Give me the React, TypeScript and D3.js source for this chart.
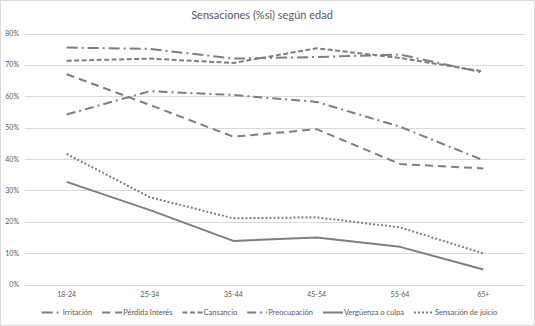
import React, { useEffect, useRef } from "react";
import * as d3 from "d3";

const categories = ["18-24", "25-34", "35-44", "45-54", "55-64", "65+"];
const seriesNames = ["Irritación", "Pérdida Interés", "Cansancio", "Preocupación", "Vergüenza o culpa", "Sensación de juicio"];
const irritacion = [75.5, 75.1, 72.0, 72.5, 73.3, 67.5];
const perdidaInteres = [67.0, 57.2, 47.1, 49.5, 38.4, 37.0];
const cansancio = [71.3, 72.0, 70.6, 75.3, 72.2, 67.9];
const preocupacion = [54.2, 61.6, 60.4, 58.2, 50.3, 39.6];
const verguenza = [32.7, 23.7, 13.9, 15.0, 12.0, 4.8];
const sensacion = [41.6, 27.8, 21.1, 21.4, 18.2, 9.9];
const yTicks = [0, 10, 20, 30, 40, 50, 60, 70, 80];
const title = "Sensaciones (%si) según edad";

const W = 535;
const H = 326;
const FONT = "Lato, 'Open Sans', sans-serif";
const LINE = "#7f7f7f";
const TEXT = "#595959";

const seriesValues = [irritacion, perdidaInteres, cansancio, preocupacion, verguenza, sensacion];
const dashes = ["11,4,2,4", "8,5", "5,2.5", "9,4,2,4", "", "2,2"];

export default function App() {
  const ref = useRef<SVGSVGElement>(null);

  useEffect(() => {
    const svg = d3.select(ref.current);
    svg.selectAll("*").remove();

    svg.append("rect").attr("x", 0.5).attr("y", 0.5).attr("width", W - 1).attr("height", H - 1)
      .attr("fill", "#fff").attr("stroke", "#d9d9d9");

    const x = d3.scaleBand<string>().domain(categories).range([25, 525]).padding(0);
    const y = d3.scaleLinear().domain([0, 80]).range([284.5, 33.5]);

    // title
    svg.append("text").attr("x", 262).attr("y", 19).attr("text-anchor", "middle")
      .attr("font-family", FONT).attr("font-size", 11).attr("fill", TEXT).text(title);

    // grid
    svg.append("g").selectAll("line").data(yTicks).join("line")
      .attr("x1", 25).attr("x2", 525)
      .attr("y1", (d) => Math.round(y(d)) + 0.5).attr("y2", (d) => Math.round(y(d)) + 0.5)
      .attr("stroke", "#d9d9d9").attr("stroke-width", 1);

    // y labels
    svg.append("g").selectAll("text").data(yTicks).join("text")
      .attr("x", 19).attr("y", (d) => y(d) + 2.5).attr("text-anchor", "end")
      .attr("font-family", FONT).attr("font-size", 7).attr("fill", TEXT)
      .text((d) => d + "%");

    // x labels
    svg.append("g").selectAll("text").data(categories).join("text")
      .attr("x", (d) => (x(d) as number) + x.bandwidth() / 2).attr("y", 297)
      .attr("text-anchor", "middle")
      .attr("font-family", FONT).attr("font-size", 7).attr("fill", TEXT)
      .text((d) => d);

    const line = d3.line<number>()
      .x((_, i) => (x(categories[i]) as number) + x.bandwidth() / 2)
      .y((d) => y(d));

    seriesValues.forEach((vals, i) => {
      svg.append("path").attr("d", line(vals) as string)
        .attr("fill", "none").attr("stroke", LINE).attr("stroke-width", 2)
        .attr("stroke-linejoin", "round")
        .attr("stroke-dasharray", dashes[i] || null);
    });

    // legend
    const lg = svg.append("g");
    const items = seriesNames.map((name, i) => {
      const g = lg.append("g");
      g.append("line").attr("x1", 0).attr("x2", 20).attr("y1", 0).attr("y2", 0)
        .attr("stroke", LINE).attr("stroke-width", 2)
        .attr("stroke-dasharray", dashes[i] || null);
      const t = g.append("text").attr("x", 21).attr("y", 2.5)
        .attr("font-family", FONT).attr("font-size", 7.5).attr("fill", TEXT).text(name);
      const w = (t.node() as SVGTextElement).getComputedTextLength();
      return { g, w: 21 + w };
    });
    const gap = 10;
    const total = items.reduce((s, it) => s + it.w, 0) + gap * (items.length - 1);
    let cx = 269.5 - total / 2;
    items.forEach((it) => {
      it.g.attr("transform", `translate(${cx},312.5)`);
      cx += it.w + gap;
    });
  }, []);

  return (
    <svg ref={ref} width={W} height={H}
      style={{ position: "absolute", left: 0, top: 0, display: "block" }} />
  );
}
